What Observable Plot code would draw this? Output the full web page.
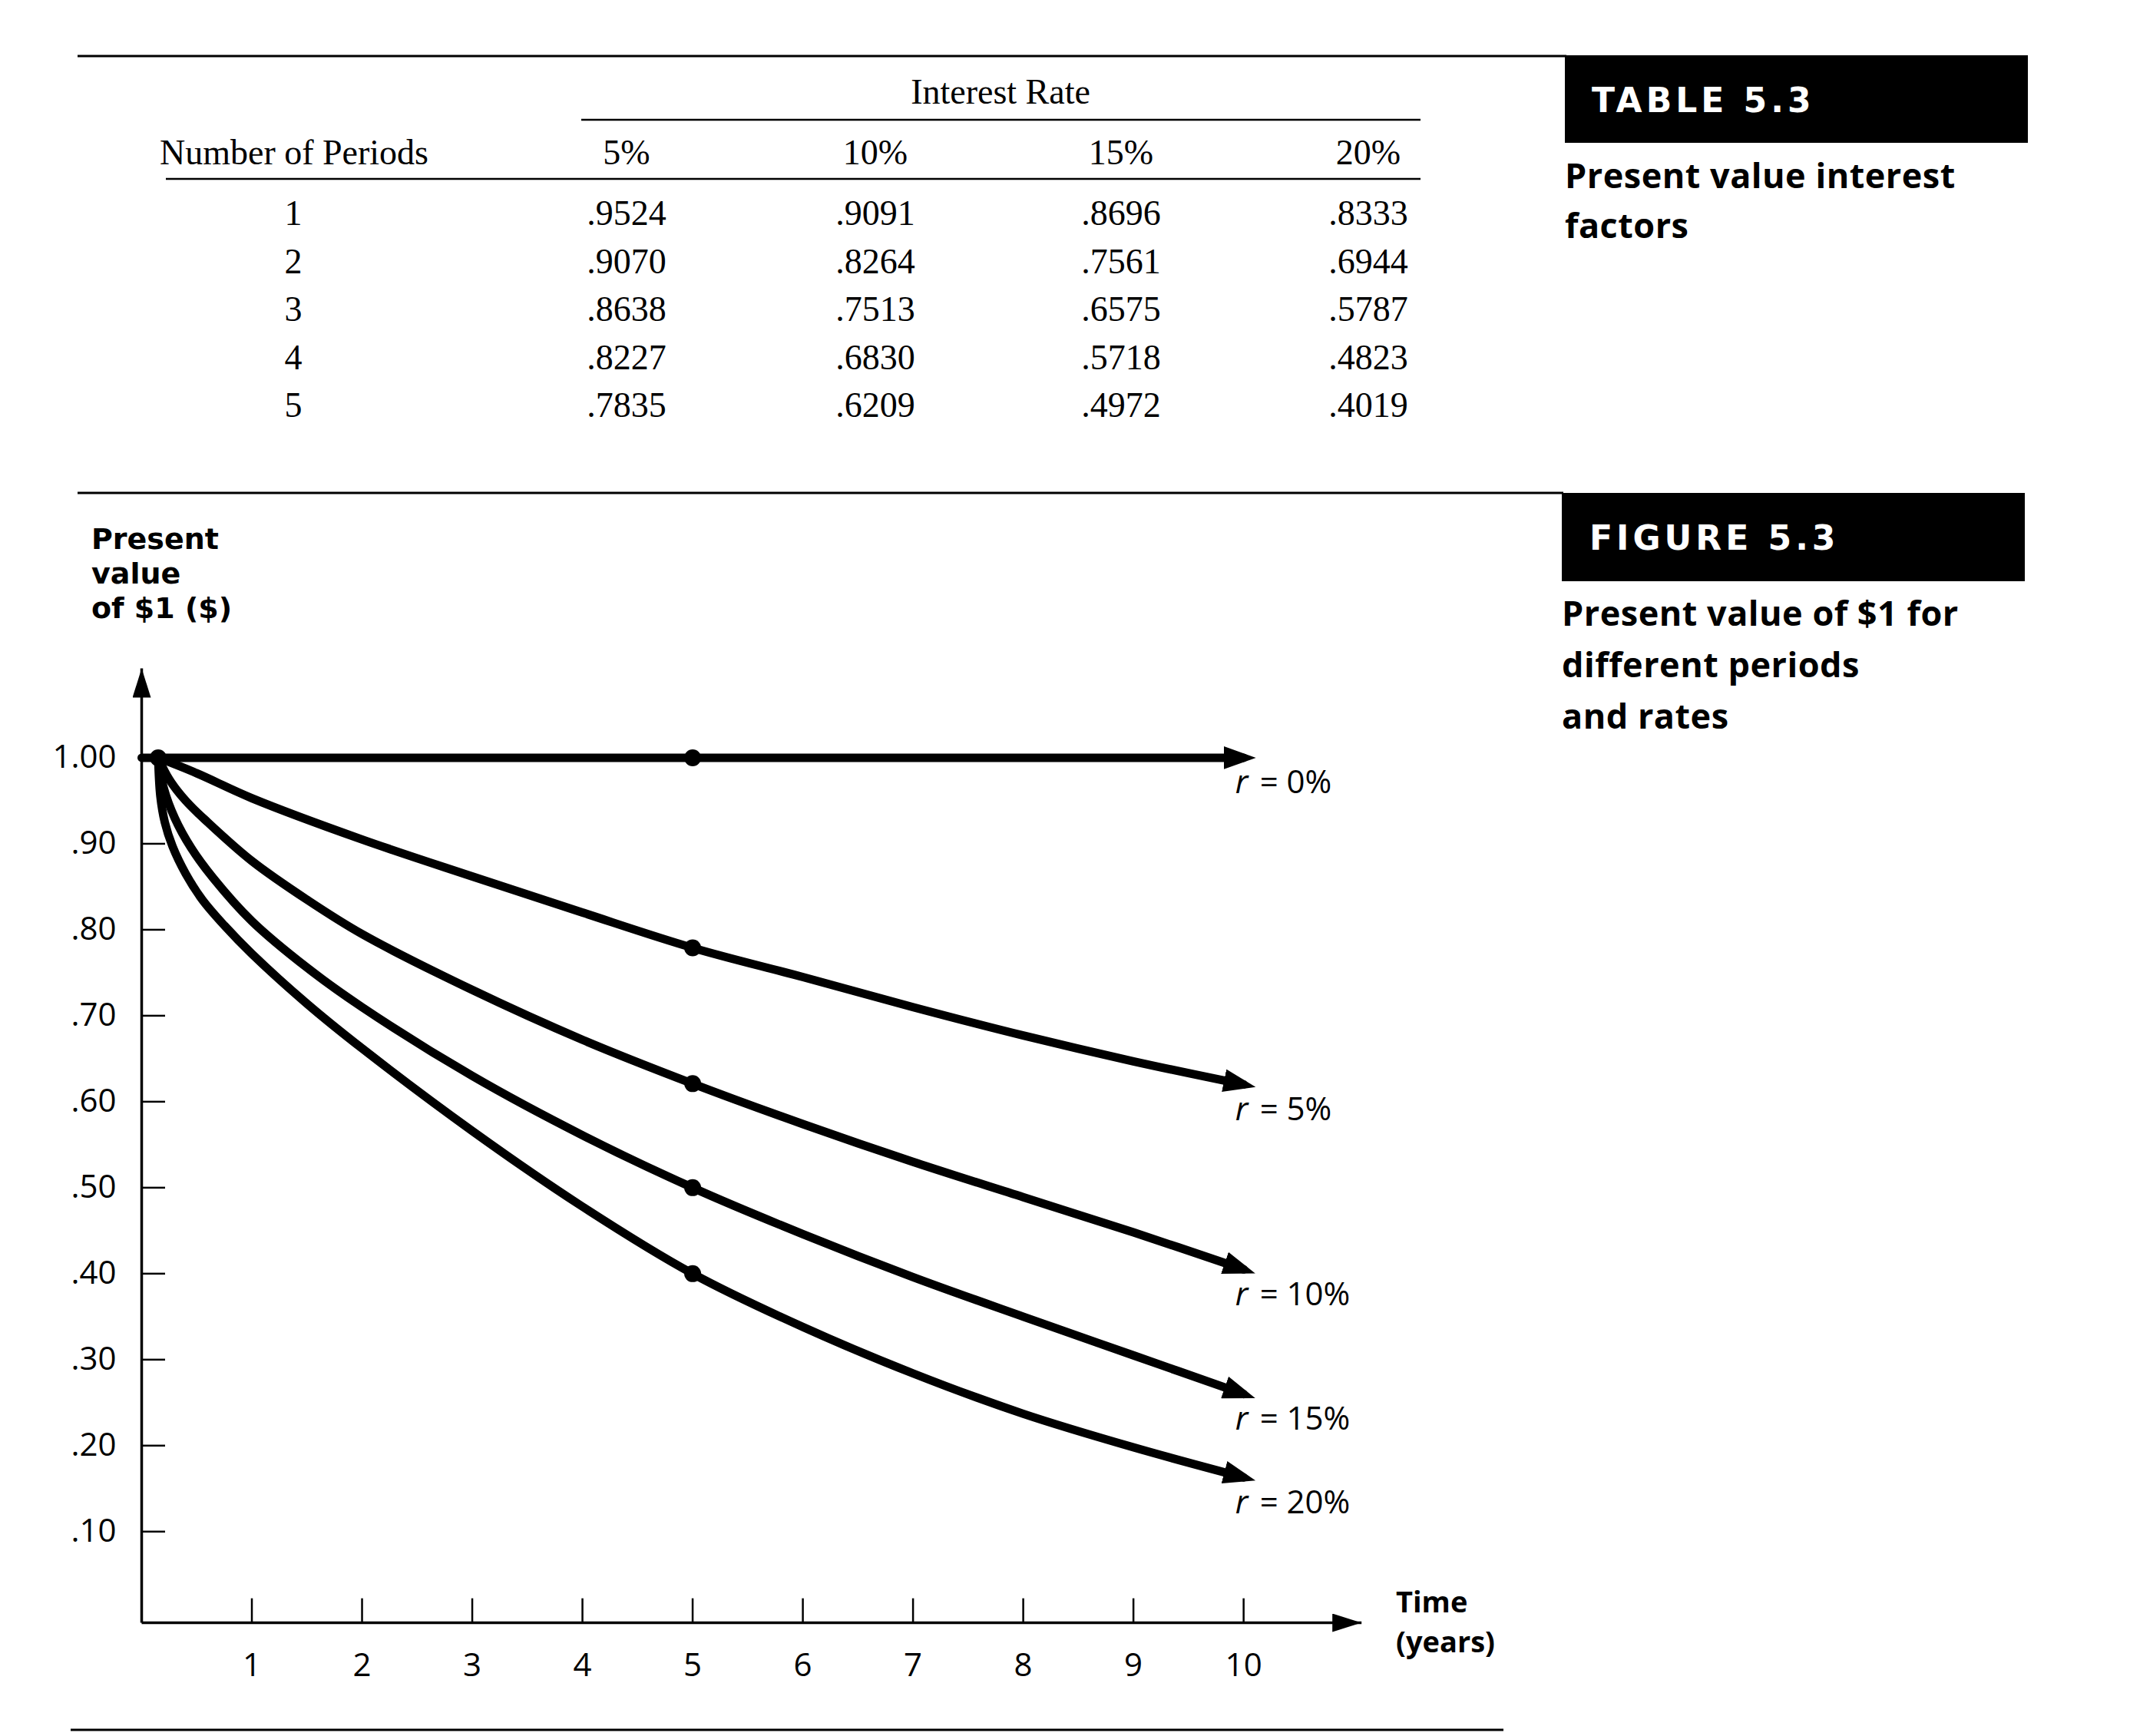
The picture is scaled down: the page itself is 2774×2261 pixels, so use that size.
<!DOCTYPE html>
<html>
<head>
<meta charset="utf-8">
<script src="https://cdn.jsdelivr.net/npm/d3@7"></script>
<script src="https://cdn.jsdelivr.net/npm/@observablehq/plot@0.6"></script>
<style>
  html, body { margin: 0; padding: 0; background: #fff; }
  #page { position: relative; width: 2774px; height: 2261px; overflow: hidden; background: #fff; }
  #page > svg { position: absolute; left: 0; top: 0; }
  #chart { position: absolute; left: 0; top: 850px; }
</style>
</head>
<body>
<div id="page"><div id="chart"></div></div>
<script>
// ---------------- DATA ----------------
// Table 5.3
const periods = [1, 2, 3, 4, 5];
const rateHeaders = ["5%", "10%", "15%", "20%"];
const factors5  = [0.9524, 0.9070, 0.8638, 0.8227, 0.7835];
const factors10 = [0.9091, 0.8264, 0.7513, 0.6830, 0.6209];
const factors15 = [0.8696, 0.7561, 0.6575, 0.5718, 0.4972];
const factors20 = [0.8333, 0.6944, 0.5787, 0.4823, 0.4019];

// Figure 5.3
const years0 = [0, 5, 10];
const pv0    = [1.00, 1.00, 1.00];
const years5 = [0.15, 0.5, 1, 2, 3, 4, 5, 6, 7, 8, 9, 10];
const pv5    = [1.00, 0.982, 0.953, 0.905, 0.862, 0.820, 0.779, 0.745, 0.710, 0.677, 0.647, 0.620];
const years10 = [0.15, 0.25, 0.4, 0.6, 1, 1.5, 2, 3, 4, 5, 6, 7, 8, 9, 10];
const pv10    = [1.00, 0.975, 0.950, 0.925, 0.880, 0.835, 0.795, 0.730, 0.672, 0.621, 0.574, 0.530, 0.489, 0.448, 0.405];
const years15 = [0.15, 0.2, 0.3, 0.45, 0.65, 1, 1.5, 2, 3, 4, 5, 6, 7, 8, 9, 10];
const pv15    = [1.00, 0.965, 0.930, 0.895, 0.860, 0.810, 0.756, 0.710, 0.630, 0.561, 0.500, 0.446, 0.396, 0.350, 0.305, 0.260];
const years20 = [0.15, 0.17, 0.21, 0.28, 0.4, 0.55, 0.75, 1, 1.5, 2, 3, 4, 5, 6, 7, 8, 9, 10];
const pv20    = [1.00, 0.955, 0.925, 0.897, 0.865, 0.835, 0.805, 0.772, 0.714, 0.662, 0.566, 0.478, 0.400, 0.338, 0.284, 0.237, 0.198, 0.163];
const seriesLabels = ["= 0%", "= 5%", "= 10%", "= 15%", "= 20%"];
const dotYear = 5;

const xTicks = [1, 2, 3, 4, 5, 6, 7, 8, 9, 10];
const yTicks = [0.1, 0.2, 0.3, 0.4, 0.5, 0.6, 0.7, 0.8, 0.9, 1.0];
const xDomain = [0, 11.1];
const yDomain = [-0.006, 1.104];
const xAxisEnd = 11.07;
const yAxisEnd = 1.104;

// ---------------- STATIC LAYOUT (table, captions) ----------------
const svg = d3.select("#page").insert("svg", "#chart")
  .attr("width", 2774).attr("height", 2261);

function hline(x1, x2, y, w) {
  svg.append("line").attr("x1", x1).attr("x2", x2).attr("y1", y).attr("y2", y)
    .attr("stroke", "#000").attr("stroke-width", w);
}
function txt(s, x, y, o = {}) {
  const t = svg.append("text").attr("x", x).attr("y", y).text(s)
    .attr("font-family", o.family || "'Open Sans', sans-serif")
    .attr("font-size", o.size || 42)
    .attr("font-weight", o.weight || "normal")
    .attr("fill", o.fill || "#000")
    .attr("text-anchor", o.anchor || "start");
  if (o.spacing) t.attr("letter-spacing", o.spacing);
  return t;
}

hline(101, 2040, 73, 3);
hline(757, 1850, 156, 2.5);
hline(216, 1850, 233, 2.5);
hline(101, 2036, 642, 3);
hline(92, 1958, 2253, 3);

svg.append("rect").attr("x", 2038).attr("y", 72).attr("width", 603).attr("height", 114).attr("fill", "#000");
svg.append("rect").attr("x", 2034).attr("y", 642).attr("width", 603).attr("height", 115).attr("fill", "#000");

const serif = { family: "'Liberation Serif', 'Times New Roman', serif", size: 46, anchor: "middle" };
txt("Interest Rate", 1303, 135, serif);
txt("Number of Periods", 383, 214, serif);
const colX = [816, 1140, 1460, 1782];
const rowY = [293, 356, 418, 481, 543];
rateHeaders.forEach((h, j) => txt(h, colX[j], 214, serif));
const tableCols = [factors5, factors10, factors15, factors20];
periods.forEach((p, i) => {
  txt(String(p), 382, rowY[i], serif);
  tableCols.forEach((col, j) => txt(col[i].toFixed(4).replace(/^0/, ""), colX[j], rowY[i], serif));
});

const boxFont = { family: "'DejaVu Sans', sans-serif", size: 44, weight: "bold", fill: "#fff", spacing: 5 };
txt("TABLE 5.3", 2073, 146, boxFont);
txt("FIGURE 5.3", 2070, 716, boxFont);

const capFont = { family: "'Open Sans', sans-serif", size: 45, weight: "bold", spacing: 0.5 };
txt("Present value interest", 2038, 245, capFont);
txt("factors", 2038, 310, capFont);
txt("Present value of $1 for", 2034, 815, capFont);
txt("different periods", 2034, 882, capFont);
txt("and rates", 2034, 949, capFont);

const axFont = { family: "'DejaVu Sans', sans-serif", size: 38, weight: "bold" };
txt("Present", 119, 715, axFont);
txt("value", 119, 760, axFont);
txt("of $1 ($)", 119, 805, axFont);
const timeFont = { family: "'Open Sans', sans-serif", size: 38, weight: "bold" };
txt("Time", 1818, 2100, timeFont);
txt("(years)", 1818, 2152, timeFont);

// ---------------- CHART (Observable Plot) ----------------
const pvSeries = [pv0, pv5, pv10, pv15, pv20];
const yearSeries = [years0, years5, years10, years15, years20];
const rows = [];
pvSeries.forEach((vals, k) => {
  vals.forEach((v, i) => rows.push({ r: seriesLabels[k], t: yearSeries[k][i], v }));
});
const dots = [{ t: years5[0], v: pv5[0] }].concat(
  pvSeries.map((vals, k) => {
    const i = yearSeries[k].indexOf(dotYear);
    return { t: yearSeries[k][i], v: vals[i] };
  })
);
const ends = pvSeries.map((vals, k) => {
  const ts = yearSeries[k];
  return { t: ts[ts.length - 1], v: vals[vals.length - 1], label: seriesLabels[k] };
});
const axisLines = [
  { x1: 0, y1: yDomain[0], x2: 0, y2: yAxisEnd },
  { x1: 0, y1: yDomain[0], x2: xAxisEnd, y2: yDomain[0] }
];

function makeArrow(back, front, half) {
  return (color) => {
    const m = d3.create("svg:marker")
      .attr("viewBox", `${-back} ${-half} ${back + front} ${2 * half}`)
      .attr("markerWidth", back + front)
      .attr("markerHeight", 2 * half)
      .attr("markerUnits", "userSpaceOnUse")
      .attr("refX", 0).attr("refY", 0)
      .attr("orient", "auto");
    m.append("path").attr("d", `M${-back},${-half}L${front},0L${-back},${half}Z`)
      .attr("fill", color === "none" ? "#000" : color).attr("stroke", "none");
    return m.node();
  };
}

function build(curveMarker, axisMarker) {
  return Plot.plot({
    width: 2000, height: 1400,
    marginLeft: 184, marginRight: 223, marginTop: 20, marginBottom: 137,
    x: { domain: xDomain },
    y: { domain: yDomain },
    style: { background: "transparent", fontFamily: "'Open Sans', sans-serif", fontSize: "42px", color: "#000", overflow: "visible" },
    marks: [
      Plot.link(axisLines, { x1: "x1", y1: "y1", x2: "x2", y2: "y2", stroke: "#000", strokeWidth: 3.5, markerEnd: axisMarker }),
      Plot.ruleY(yTicks, { y: d => d, x1: 0, x2: 0.216, stroke: "#000", strokeWidth: 2.5 }),
      Plot.ruleX(xTicks, { x: d => d, y1: yDomain[0], y2: yDomain[0] + 0.028, stroke: "#000", strokeWidth: 2.5 }),
      Plot.axisY({ ticks: yTicks, tickSize: 0, tickPadding: 33, label: null, fontSize: 42,
        tickFormat: d => d === 1 ? "1.00" : d3.format(".2f")(d).replace(/^0/, "") }),
      Plot.axisX({ ticks: xTicks, tickSize: 0, tickPadding: 40, label: null, fontSize: 42, tickFormat: d => String(d) }),
      Plot.line(rows, { x: "t", y: "v", z: "r", curve: "catmull-rom", stroke: "#000", strokeWidth: 11,
        strokeLinejoin: "round", markerEnd: curveMarker }),
      Plot.dot(dots, { x: "t", y: "v", r: 11, fill: "#000", stroke: "none" }),
      Plot.text(ends, { x: "t", y: "v", text: () => "r", dx: -11, dy: 33, textAnchor: "start", fontStyle: "italic", fontSize: 42 }),
      Plot.text(ends, { x: "t", y: "v", text: "label", dx: 21, dy: 33, textAnchor: "start", fontSize: 42 })
    ]
  });
}

let chart;
try {
  chart = build(makeArrow(26, 16, 15), makeArrow(38, 0, 12));
} catch (e) {
  chart = build("arrow", "arrow");
}
document.getElementById("chart").appendChild(chart);
</script>
</body>
</html>
